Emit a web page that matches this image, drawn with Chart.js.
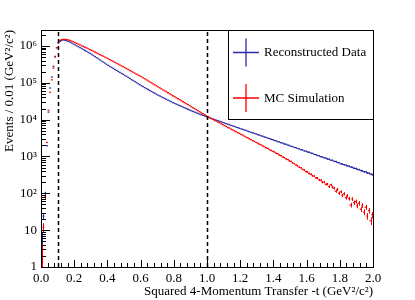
<!DOCTYPE html>
<html>
<head>
<meta charset="utf-8">
<script src="https://cdn.jsdelivr.net/npm/chart.js@4.4.1/dist/chart.umd.min.js"></script>
<style>
  html, body { margin: 0; padding: 0; background: #fff; }
  canvas { display: block; }
</style>
</head>
<body>
<canvas id="c" width="415" height="300"></canvas>
<script>
// -t distribution, 0.01 GeV^2/c^2 bins from 0 to 2
const BIN_WIDTH = 0.01;

// Reconstructed data, events per bin
const dataCounts = [
  6, 24, 100, 1950, 16000, 72000, 143000, 280000, 500000, 890000,
  1.20e6, 1.32e6, 1.41e6, 1.45e6, 1.41e6, 1.38e6, 1.32e6, 1.26e6, 1.20e6, 1.12e6,
  1.07e6, 1.01e6, 9.55e5, 9.02e5, 8.51e5, 7.94e5, 7.50e5, 7.08e5, 6.61e5, 6.24e5,
  5.89e5, 5.50e5, 5.13e5, 4.79e5, 4.47e5, 4.17e5, 3.89e5, 3.63e5, 3.39e5, 3.16e5,
  2.95e5, 2.77e5, 2.61e5, 2.45e5, 2.30e5, 2.16e5, 2.03e5, 1.91e5, 1.79e5, 1.69e5,
  1.58e5, 1.49e5, 1.39e5, 1.31e5, 1.22e5, 1.15e5, 1.08e5, 1.01e5, 9.46e4, 8.87e4,
  8.32e4, 7.83e4, 7.38e4, 6.95e4, 6.55e4, 6.17e4, 5.82e4, 5.50e4, 5.19e4, 4.90e4,
  4.62e4, 4.39e4, 4.16e4, 3.94e4, 3.74e4, 3.55e4, 3.37e4, 3.21e4, 3.05e4, 2.90e4,
  2.75e4, 2.63e4, 2.51e4, 2.40e4, 2.29e4, 2.19e4, 2.09e4, 2.00e4, 1.91e4, 1.82e4,
  1.74e4, 1.67e4, 1.60e4, 1.53e4, 1.47e4, 1.41e4, 1.36e4, 1.31e4, 1.26e4, 1.21e4,
  1.16e4, 1.12e4, 1.08e4, 1.04e4, 1.00e4, 9680, 9340, 9010, 8690, 8380,
  8080, 7790, 7520, 7250, 6990, 6740, 6500, 6270, 6050, 5840,
  5630, 5450, 5210, 5070, 4850, 4710, 4520, 4390, 4200, 4080,
  3900, 3800, 3630, 3540, 3380, 3300, 3140, 3070, 2930, 2860,
  2720, 2660, 2530, 2480, 2350, 2310, 2180, 2150, 2040, 1990,
  1890, 1860, 1760, 1730, 1640, 1610, 1520, 1500, 1420, 1390,
  1320, 1300, 1230, 1210, 1140, 1120, 1060, 1040, 985, 970,
  915, 905, 850, 840, 790, 785, 735, 730, 685, 680,
  635, 620, 598, 582, 552, 545, 515, 505, 478, 470,
  445, 440, 415, 405, 385, 382, 356, 352, 330, 322
];

// MC simulation, events per bin
const mcCounts = [
  2.5, 12, 80, 2400, 18000, 55000, 120000, 250000, 520000, 890000,
  1.23e6, 1.41e6, 1.48e6, 1.51e6, 1.51e6, 1.48e6, 1.45e6, 1.41e6, 1.35e6, 1.29e6,
  1.23e6, 1.17e6, 1.12e6, 1.06e6, 1.01e6, 9.66e5, 9.20e5, 8.77e5, 8.36e5, 7.96e5,
  7.59e5, 7.19e5, 6.82e5, 6.47e5, 6.14e5, 5.82e5, 5.52e5, 5.24e5, 4.97e5, 4.71e5,
  4.47e5, 4.23e5, 4.00e5, 3.78e5, 3.58e5, 3.39e5, 3.21e5, 3.03e5, 2.87e5, 2.72e5,
  2.57e5, 2.43e5, 2.29e5, 2.16e5, 2.04e5, 1.93e5, 1.82e5, 1.72e5, 1.62e5, 1.53e5,
  1.45e5, 1.36e5, 1.28e5, 1.20e5, 1.13e5, 1.06e5, 9.95e4, 9.35e4, 8.79e4, 8.26e4,
  7.76e4, 7.29e4, 6.85e4, 6.44e4, 6.05e4, 5.69e4, 5.35e4, 5.02e4, 4.72e4, 4.44e4,
  4.17e4, 3.92e4, 3.68e4, 3.46e4, 3.25e4, 3.05e4, 2.87e4, 2.70e4, 2.54e4, 2.38e4,
  2.24e4, 2.10e4, 1.98e4, 1.86e4, 1.75e4, 1.64e4, 1.54e4, 1.45e4, 1.36e4, 1.28e4,
  1.20e4, 1.14e4, 1.07e4, 1.02e4, 9580, 9120, 8580, 8180, 7680, 7320,
  6880, 6560, 6150, 5880, 5500, 5260, 4920, 4720, 4400, 4220,
  3950, 3780, 3540, 3330, 3200, 2990, 2870, 2680, 2560, 2400,
  2290, 2150, 2050, 1920, 1840, 1720, 1650, 1540, 1470, 1380,
  1320, 1230, 1180, 1090, 1050, 970, 930, 860, 825, 760,
  735, 670, 640, 585, 560, 510, 492, 445, 430, 390,
  380, 345, 330, 300, 294, 262, 258, 230, 226, 200,
  202, 176, 178, 152, 170, 148, 138, 114, 128, 100,
  110, 88, 97, 76, 86, 72, 48, 70, 56, 60,
  46, 54, 37, 47, 31, 42, 24, 34, 18, 26
];

const binCenters = dataCounts.map((_, i) => (i + 0.5) * BIN_WIDTH);
const yTickLabels = ['1', '10', '10²', '10³', '10⁴', '10⁵', '10⁶'];
const cutLines = [0.1, 1.0];

const SERIF = '"Liberation Serif", "DejaVu Serif", serif';
const BLUE = '#2b2ba6';
const RED = '#ff0000';

// ROOT-style frame, inward ticks and the dashed cut lines
const frameTicks = {
  id: 'frameTicks',
  afterDatasetsDraw(chart) {
    const { ctx, chartArea: a, scales: { x, y } } = chart;
    ctx.save();
    ctx.strokeStyle = '#000';

    ctx.lineWidth = 1.5;
    ctx.setLineDash([4, 3]);
    cutLines.forEach(t => {
      const px = Math.round(x.getPixelForValue(t)) + 0.5;
      ctx.beginPath();
      ctx.moveTo(px, a.bottom);
      ctx.lineTo(px, a.top);
      ctx.stroke();
    });
    ctx.setLineDash([]);

    ctx.lineWidth = 1;
    ctx.beginPath();
    for (let i = 0; i <= 50; i++) {
      const px = Math.round(x.getPixelForValue(i * 0.04)) + 0.5;
      const len = i % 5 === 0 ? 7 : 4;
      ctx.moveTo(px, a.bottom);
      ctx.lineTo(px, a.bottom - len);
    }
    for (let d = 0; d < yTickLabels.length; d++) {
      for (let m = 1; m <= 9; m++) {
        const v = m * Math.pow(10, d);
        if (v > y.max) break;
        const py = Math.round(y.getPixelForValue(v)) + 0.5;
        ctx.moveTo(a.left, py);
        ctx.lineTo(a.left + (m === 1 ? 9 : 5), py);
      }
    }
    ctx.stroke();

    ctx.strokeRect(Math.round(a.left) + 0.5, Math.round(a.top) + 0.5,
      Math.round(a.right - a.left), Math.round(a.bottom - a.top));
    ctx.restore();
  }
};

// vertical sqrt(N) error bars for each dataset
const errorBars = {
  id: 'errorBars',
  afterDatasetDraw(chart, args) {
    const ds = chart.data.datasets[args.index];
    const { ctx, chartArea: a, scales: { y } } = chart;
    ctx.save();
    ctx.beginPath();
    ctx.rect(a.left, a.top, a.right - a.left, a.bottom - a.top);
    ctx.clip();
    ctx.strokeStyle = ds.borderColor;
    ctx.lineWidth = 1;
    ctx.beginPath();
    args.meta.data.forEach((pt, i) => {
      const n = ds.data[i].y;
      const e = Math.sqrt(n);
      const lo = n - e > 0 ? y.getPixelForValue(n - e) : a.bottom + 5;
      const hi = y.getPixelForValue(n + e);
      ctx.moveTo(Math.round(pt.x) + 0.5, lo);
      ctx.lineTo(Math.round(pt.x) + 0.5, hi);
    });
    ctx.stroke();
    ctx.restore();
  }
};

// legend box in the top right corner of the frame
const legendBox = {
  id: 'legendBox',
  afterDraw(chart) {
    const { ctx, chartArea: a } = chart;
    const w = 145, h = 89;
    const left = Math.round(a.right) - w, top = Math.round(a.top);
    ctx.save();
    ctx.fillStyle = '#fff';
    ctx.fillRect(left, top, w, h);
    ctx.strokeStyle = '#000';
    ctx.lineWidth = 1;
    ctx.strokeRect(left + 0.5, top + 0.5, w, h);
    ctx.font = '13px ' + SERIF;
    ctx.textBaseline = 'middle';
    chart.data.datasets.forEach((ds, i) => {
      const cy = top + 22.5 + i * 45.5;
      ctx.strokeStyle = ds.borderColor;
      ctx.lineWidth = 1.3;
      ctx.beginPath();
      ctx.moveTo(left + 5, cy);
      ctx.lineTo(left + 31, cy);
      ctx.moveTo(left + 18, cy - 14);
      ctx.lineTo(left + 18, cy + 14);
      ctx.stroke();
      ctx.fillStyle = '#000';
      ctx.fillText(ds.label, left + 36, cy + 0.5);
    });
    ctx.restore();
  }
};

function makeSeries(label, counts, color, order) {
  return {
    label,
    data: counts.map((n, i) => ({ x: binCenters[i], y: n })),
    borderColor: color,
    backgroundColor: color,
    pointStyle: 'line',
    pointRadius: 0.9,
    pointBorderWidth: 1.3,
    showLine: false,
    order,
  };
}

new Chart(document.getElementById('c'), {
  type: 'scatter',
  data: {
    datasets: [
      makeSeries('Reconstructed Data', dataCounts, BLUE, 1),
      makeSeries('MC Simulation', mcCounts, RED, 0),
    ],
  },
  options: {
    responsive: false,
    animation: false,
    devicePixelRatio: 1,
    layout: { padding: { top: 30, right: 42, left: 0, bottom: 0 } },
    plugins: { legend: { display: false }, tooltip: { enabled: false } },
    scales: {
      x: {
        type: 'linear',
        min: 0,
        max: 2,
        grid: { display: false, drawTicks: false },
        border: { display: false },
        ticks: {
          stepSize: 0.2,
          padding: 4,
          color: '#000',
          font: { family: SERIF, size: 13 },
          callback: v => v.toFixed(1),
        },
        title: {
          display: true,
          text: 'Squared 4-Momentum Transfer -t (GeV²/c²)',
          align: 'end',
          color: '#000',
          font: { family: SERIF, size: 13 },
          padding: { top: 0, bottom: 1 },
        },
        afterFit: s => { s.height = 33; },
      },
      y: {
        type: 'logarithmic',
        min: 1,
        max: 2.7e6,
        grid: { display: false, drawTicks: false },
        border: { display: false },
        ticks: {
          autoSkip: false,
          padding: 4,
          color: '#000',
          font: { family: SERIF, size: 13 },
          callback: v => {
            const l = Math.log10(v);
            const p = Math.round(l);
            return Math.abs(l - p) < 1e-6 ? (yTickLabels[p] || '') : '';
          },
        },
        title: {
          display: true,
          text: 'Events / 0.01 (GeV²/c²)',
          align: 'end',
          color: '#000',
          font: { family: SERIF, size: 13 },
          padding: { top: 2, bottom: 0 },
        },
        afterFit: s => { s.width = 41; },
      },
    },
  },
  plugins: [errorBars, frameTicks, legendBox],
});
</script>
</body>
</html>
